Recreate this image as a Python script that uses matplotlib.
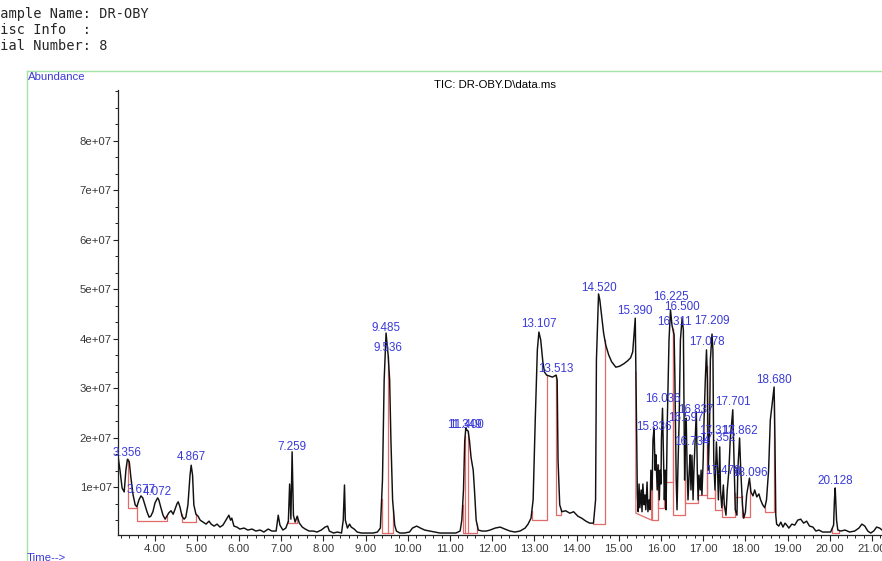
import numpy as np
import matplotlib
matplotlib.use("Agg")
import matplotlib.pyplot as plt
from matplotlib.ticker import FixedLocator, FuncFormatter, MultipleLocator

# ---- TIC trace: retention time (min) and abundance (millions of counts) ----
rt_min = [
    3.13, 3.18, 3.23, 3.28, 3.32, 3.356, 3.40, 3.44, 3.49, 3.54, 3.58, 3.63, 3.677, 3.72, 3.77,
    3.82, 3.87, 3.91, 3.96, 4.01, 4.072, 4.10, 4.15, 4.20, 4.25, 4.29, 4.34, 4.39, 4.44, 4.48,
    4.53, 4.56, 4.60, 4.65, 4.70, 4.74, 4.79, 4.84, 4.867, 4.90, 4.93, 4.98, 5.03, 5.08, 5.15,
    5.22, 5.29, 5.34, 5.41, 5.48, 5.55, 5.62, 5.69, 5.76, 5.80, 5.83, 5.88, 5.95, 6.02, 6.12,
    6.21, 6.31, 6.40, 6.50, 6.59, 6.69, 6.78, 6.88, 6.93, 6.97, 7.04, 7.11, 7.17, 7.20, 7.23,
    7.259, 7.29, 7.33, 7.38, 7.43, 7.50, 7.57, 7.66, 7.76, 7.85, 7.95, 8.04, 8.10, 8.14, 8.24,
    8.33, 8.43, 8.47, 8.50, 8.52, 8.57, 8.62, 8.66, 8.73, 8.80, 8.90, 9.04, 9.18, 9.28, 9.35,
    9.40, 9.44, 9.485, 9.51, 9.536, 9.57, 9.60, 9.64, 9.69, 9.73, 9.81, 9.92, 10.04, 10.11, 10.21,
    10.30, 10.40, 10.52, 10.64, 10.76, 11.00, 11.14, 11.24, 11.28, 11.32, 11.349, 11.375, 11.400, 11.43, 11.46,
    11.50, 11.55, 11.58, 11.62, 11.67, 11.76, 11.86, 11.95, 12.07, 12.19, 12.30, 12.42, 12.54, 12.66, 12.78,
    12.85, 12.92, 12.97, 13.02, 13.07, 13.107, 13.15, 13.20, 13.24, 13.29, 13.36, 13.43, 13.513, 13.54, 13.56,
    13.60, 13.65, 13.74, 13.84, 13.93, 14.03, 14.12, 14.22, 14.31, 14.40, 14.45, 14.47, 14.520, 14.55, 14.60,
    14.64, 14.69, 14.76, 14.83, 14.93, 15.02, 15.12, 15.21, 15.28, 15.33, 15.39, 15.41, 15.44, 15.46, 15.48,
    15.50, 15.53, 15.55, 15.57, 15.60, 15.62, 15.64, 15.67, 15.69, 15.72, 15.74, 15.76, 15.79, 15.81, 15.836,
    15.86, 15.88, 15.91, 15.93, 15.96, 15.98, 16.00, 16.01, 16.036, 16.06, 16.08, 16.10, 16.12, 16.15, 16.19,
    16.225, 16.26, 16.311, 16.33, 16.36, 16.38, 16.40, 16.43, 16.46, 16.500, 16.53, 16.56, 16.578, 16.597, 16.62,
    16.64, 16.67, 16.69, 16.71, 16.734, 16.76, 16.78, 16.81, 16.837, 16.86, 16.88, 16.90, 16.93, 16.95, 16.97,
    17.00, 17.02, 17.05, 17.078, 17.10, 17.12, 17.15, 17.17, 17.209, 17.23, 17.25, 17.28, 17.313, 17.34, 17.36,
    17.392, 17.41, 17.44, 17.478, 17.50, 17.54, 17.57, 17.61, 17.64, 17.701, 17.73, 17.76, 17.80, 17.82, 17.862,
    17.89, 17.93, 17.96, 18.00, 18.03, 18.096, 18.13, 18.18, 18.22, 18.27, 18.32, 18.36, 18.41, 18.46, 18.50,
    18.55, 18.59, 18.680, 18.70, 18.72, 18.74, 18.79, 18.84, 18.89, 18.94, 18.98, 19.03, 19.10, 19.17, 19.24,
    19.31, 19.38, 19.45, 19.52, 19.60, 19.67, 19.74, 19.83, 19.93, 20.02, 20.09, 20.11, 20.128, 20.16, 20.19,
    20.26, 20.36, 20.47, 20.59, 20.69, 20.76, 20.83, 20.90, 20.97, 21.04, 21.11, 21.18, 21.24,
]
abund_m = [
    16.6, 13.5, 9.9, 9.1, 13.5, 15.7, 15.2, 11.9, 8.5, 6.5, 6.1, 7.5, 8.3, 7.9, 6.5,
    5.1, 4.0, 4.2, 5.1, 6.9, 7.9, 7.5, 5.9, 4.4, 3.6, 4.2, 4.9, 5.3, 4.6, 5.5,
    6.7, 7.1, 6.1, 4.2, 3.6, 4.0, 6.5, 12.5, 14.5, 12.5, 6.5, 4.6, 4.2, 3.4, 3.0,
    2.6, 3.2, 2.6, 2.2, 2.6, 2.0, 2.4, 3.4, 4.4, 3.4, 3.8, 2.2, 2.0, 1.6, 1.8,
    1.4, 1.6, 1.2, 1.4, 1.0, 1.6, 1.2, 1.2, 4.4, 2.4, 1.4, 1.8, 3.2, 10.7, 3.6,
    17.2, 4.4, 3.0, 4.2, 2.8, 2.0, 1.6, 1.2, 1.2, 1.0, 1.4, 2.0, 2.2, 1.2, 0.8,
    1.0, 0.8, 3.4, 10.5, 3.4, 1.8, 2.6, 2.0, 1.6, 1.0, 0.8, 0.8, 0.8, 1.0, 1.8,
    11.5, 31.7, 41.2, 38.8, 36.6, 31.7, 19.6, 7.5, 2.4, 1.2, 0.8, 0.8, 1.0, 1.8, 2.2,
    1.8, 1.4, 1.2, 1.0, 0.8, 0.8, 0.8, 1.2, 3.4, 9.5, 19.4, 22.0, 21.6, 21.4, 19.6,
    16.0, 13.5, 9.5, 3.4, 1.4, 1.2, 1.2, 1.4, 1.8, 2.0, 1.6, 1.2, 1.0, 1.2, 1.8,
    2.6, 3.8, 7.5, 23.6, 37.8, 41.4, 39.8, 35.4, 33.3, 32.7, 32.5, 32.3, 32.7, 31.7, 15.6,
    6.5, 5.1, 5.3, 4.8, 5.1, 4.2, 3.8, 3.2, 2.8, 2.8, 7.5, 35.8, 49.1, 47.9, 44.2,
    41.2, 38.8, 36.8, 35.4, 34.3, 34.5, 35.0, 35.6, 36.2, 37.4, 44.2, 29.7, 8.5, 5.1, 10.7,
    5.9, 9.5, 5.1, 10.7, 6.5, 8.5, 5.5, 11.1, 5.1, 7.5, 5.5, 13.5, 9.5, 19.6, 22.0,
    13.5, 16.6, 9.5, 14.6, 7.5, 13.5, 10.7, 19.6, 26.0, 15.6, 7.5, 13.5, 5.5, 23.6, 39.8,
    45.9, 42.8, 40.8, 31.7, 11.5, 5.5, 13.5, 23.6, 39.8, 44.2, 41.8, 11.5, 19.6, 24.0, 13.5,
    7.5, 13.5, 16.6, 9.5, 16.5, 7.5, 13.5, 19.6, 25.3, 13.5, 7.5, 12.5, 9.5, 13.5, 8.5,
    15.6, 23.6, 31.7, 37.8, 31.7, 13.5, 21.6, 35.8, 41.0, 37.8, 15.6, 9.5, 19.2, 13.5, 7.5,
    18.2, 9.5, 5.9, 10.5, 6.5, 4.4, 9.5, 13.5, 19.6, 25.7, 15.6, 5.5, 4.4, 13.5, 20.0,
    13.5, 6.5, 3.8, 5.0, 8.5, 11.9, 9.1, 8.3, 9.5, 8.1, 8.7, 7.5, 6.5, 5.9, 7.5,
    13.5, 23.6, 30.3, 19.6, 4.4, 2.6, 2.2, 3.0, 2.0, 2.8, 2.4, 1.8, 2.6, 2.4, 3.4,
    3.6, 2.8, 3.2, 2.2, 2.0, 1.2, 1.4, 1.0, 1.0, 1.0, 2.4, 7.5, 9.9, 3.4, 1.4,
    1.2, 1.4, 1.0, 1.2, 1.8, 2.6, 2.2, 1.2, 0.8, 1.2, 2.0, 1.8, 1.4,
]

# ---- integration events: window start/end (min), baseline level at each end (millions) ----
win_start = [3.36, 3.58, 4.64, 7.17, 9.38, 11.30, 12.94, 13.51, 14.39, 15.405, 15.78, 15.93,
             16.07, 16.28, 16.56, 16.88, 17.09, 17.28, 17.45, 17.75, 17.92, 18.46, 20.06]
win_end = [3.58, 4.29, 4.98, 7.38, 9.66, 11.64, 13.30, 13.63, 14.67, 15.78, 15.93, 16.07,
           16.28, 16.56, 16.88, 17.09, 17.28, 17.45, 17.75, 17.92, 18.11, 18.685, 20.22]
win_base0 = [5.9, 3.2, 3.0, 2.8, 0.8, 0.8, 3.4, 4.4, 2.6, 4.8, 3.4, 5.9,
             11.1, 4.4, 6.9, 8.5, 7.9, 5.5, 4.0, 8.1, 4.0, 5.0, 0.9]
win_base1 = [5.9, 3.2, 3.0, 2.8, 0.8, 0.8, 3.4, 4.4, 2.6, 3.4, 3.4, 5.9,
             11.1, 4.4, 6.9, 8.5, 7.9, 5.5, 4.0, 8.1, 4.0, 5.0, 0.9]

# perpendicular drops splitting co-eluting peaks
drop_rt = [9.536, 11.36, 11.42]
drop_base = [0.8, 0.8, 0.8]

# ---- peak annotations: retention time and label height (millions) ----
peak_rt = [3.356, 3.677, 4.072, 4.867, 7.259, 9.485, 9.536, 11.349, 11.400, 13.107, 13.513,
           14.520, 15.390, 15.836, 16.036, 16.225, 16.311, 16.500, 16.597, 16.734, 16.837,
           17.078, 17.209, 17.313, 17.352, 17.478, 17.701, 17.862, 18.096, 18.680, 20.128]
peak_label_y = [17.0, 9.5, 9.1, 16.2, 18.2, 42.2, 38.2, 22.6, 22.6, 43.0, 33.9,
                50.3, 45.7, 22.2, 27.9, 48.5, 43.4, 46.5, 24.0, 19.2, 25.7,
                39.4, 43.6, 21.4, 20.0, 13.3, 27.3, 21.4, 12.9, 31.7, 11.3]

header_lines = ["Sample Name: DR-OBY", "Misc Info  :", "Vial Number: 8"]

# ---------------------------------------------------------------------------
W, H = 882, 561
fig = plt.figure(figsize=(W / 100, H / 100), dpi=100)
fig.patch.set_facecolor("white")

sans = ["Liberation Sans", "DejaVu Sans"]
blue = "#3a3ad8"
red = "#e26a6a"
green = "#a6e3a6"

# header block (monospace, starts just off the left edge)
for i, line in enumerate(header_lines):
    fig.text(-8.0 / W, 1 - (14 + 16 * i) / H, line, family="DejaVu Sans Mono",
             fontsize=9.8, color="#262626", va="center", ha="left")

# green frame of the plot panel
fig.add_artist(plt.Line2D([27 / W, 1.0], [1 - 71 / H, 1 - 71 / H],
                          transform=fig.transFigure, color=green, lw=1.0))
fig.add_artist(plt.Line2D([27 / W, 27 / W], [0.0, 1 - 71 / H],
                          transform=fig.transFigure, color=green, lw=1.0))
fig.text(28 / W, 1 - 77 / H, "Abundance", family=sans, fontsize=8.2, color=blue,
         va="center", ha="left")
fig.text(27 / W, 1 - 553 / H, "Time-->", family=sans, fontsize=8.2, color=blue,
         va="top", ha="left")
fig.text(495 / W, 1 - 85 / H, "TIC: DR-OBY.D\\data.ms", family=sans, fontsize=8.2,
         color="black", va="center", ha="center")

ax = fig.add_axes([118 / W, (H - 535) / H, (W - 118) / W, (535 - 90) / H])
ax.set_facecolor("none")

t = np.asarray(rt_min)
a = np.asarray(abund_m) * 1e6

# integration baselines and boundaries
for t0, t1, b0, b1 in zip(win_start, win_end, win_base0, win_base1):
    y0 = np.interp(t0, t, a)
    y1 = np.interp(t1, t, a)
    ax.plot([t0, t0, t1, t1], [y0, b0 * 1e6, b1 * 1e6, y1], color=red, lw=0.9, zorder=1)
for td, bd in zip(drop_rt, drop_base):
    ax.plot([td, td], [bd * 1e6, np.interp(td, t, a)], color=red, lw=0.9, zorder=1)

ax.plot(t, a, color="#111111", lw=1.05, zorder=2)

for rt, ly in zip(peak_rt, peak_label_y):
    ax.text(rt, ly * 1e6, f"{rt:.3f}", family=sans, fontsize=8.4, color=blue,
            ha="center", va="center", zorder=3)

ax.set_xlim(3.133, 11 + (W - 450) / 42.2)
ax.set_ylim(0.4e6, 9.03e7)

for s in ("top", "right"):
    ax.spines[s].set_visible(False)
for s in ("left", "bottom"):
    ax.spines[s].set_color("#222222")
    ax.spines[s].set_linewidth(0.9)

ax.xaxis.set_major_locator(MultipleLocator(1.0))
ax.xaxis.set_minor_locator(MultipleLocator(0.2))
ax.xaxis.set_major_formatter(FuncFormatter(lambda v, p: f"{v:.2f}"))
ax.yaxis.set_major_locator(FixedLocator([k * 1e7 for k in range(1, 9)]))
ax.yaxis.set_minor_locator(FixedLocator(list(np.arange(1, 28) * 1e7 / 3)))
ax.yaxis.set_major_formatter(FuncFormatter(lambda v, p: f"{int(round(v / 1e7))}e+07"))

ax.tick_params(axis="x", which="major", length=4, width=0.8, pad=2.5,
               labelsize=8.2, labelcolor="#3a3a3a", color="#222222")
ax.tick_params(axis="x", which="minor", length=2.2, width=0.7, color="#222222")
ax.tick_params(axis="y", which="major", length=3.5, width=0.8, pad=1,
               labelsize=8.2, labelcolor="#3a3a3a", color="#222222")
ax.tick_params(axis="y", which="minor", length=2, width=0.7, color="#222222")
for lab in ax.get_xticklabels() + ax.get_yticklabels():
    lab.set_family(sans)

fig.savefig("out.png", dpi=100)
